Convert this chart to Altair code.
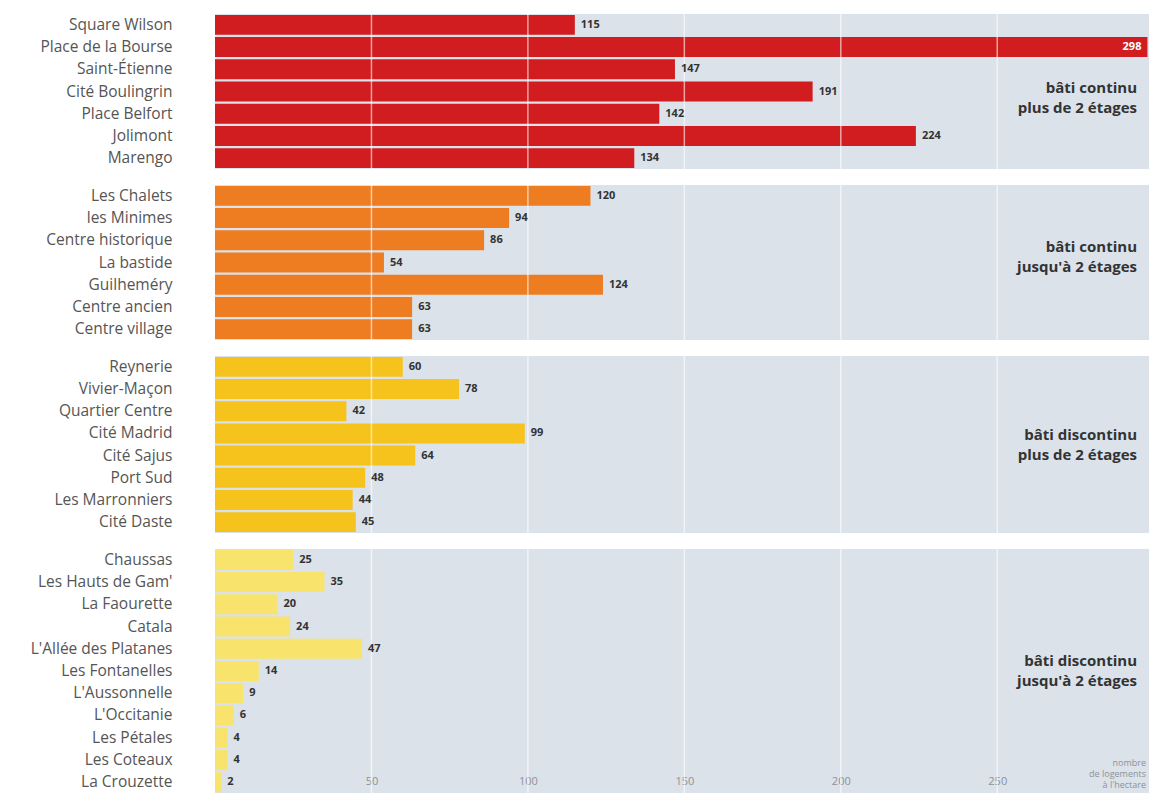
import altair as alt
import pandas as pd

FONT = "Open Sans"
W = 934

names_1 = ["Square Wilson", "Place de la Bourse", "Saint-Étienne", "Cité Boulingrin",
           "Place Belfort", "Jolimont", "Marengo"]
vals_1 = [115, 298, 147, 191, 142, 224, 134]

names_2 = ["Les Chalets", "les Minimes", "Centre historique", "La bastide",
           "Guilheméry", "Centre ancien", "Centre village"]
vals_2 = [120, 94, 86, 54, 124, 63, 63]

names_3 = ["Reynerie", "Vivier-Maçon", "Quartier Centre", "Cité Madrid",
           "Cité Sajus", "Port Sud", "Les Marronniers", "Cité Daste"]
vals_3 = [60, 78, 42, 99, 64, 48, 44, 45]

names_4 = ["Chaussas", "Les Hauts de Gam'", "La Faourette", "Catala",
           "L'Allée des Platanes", "Les Fontanelles", "L'Aussonnelle",
           "L'Occitanie", "Les Pétales", "Les Coteaux", "La Crouzette"]
vals_4 = [25, 35, 20, 24, 47, 14, 9, 6, 4, 4, 2]

group_labels = ["bâti continu\nplus de 2 étages",
                "bâti continu\njusqu'à 2 étages",
                "bâti discontinu\nplus de 2 étages",
                "bâti discontinu\njusqu'à 2 étages"]
group_colors = ["#d11d1f", "#ee7d22", "#f6c21c", "#f8e46c"]
label_shift = [-4, -16, -10, -10]

grid_vals = [50, 100, 150, 200, 250]
axis_title = "nombre\nde logements\nà l'hectare"

XDOM = [0, 298.5]


def panel(names, vals, color, label, height, shift, last=False):
    df = pd.DataFrame({"name": names, "value": vals})
    base = alt.Chart(df)
    yscale = alt.Scale(paddingInner=0.1, paddingOuter=0.04)
    xscale = alt.Scale(domain=XDOM, nice=False, zero=True)
    if last:
        xaxis = alt.Axis(values=grid_vals, domain=False, ticks=False, grid=False,
                         labelColor="#8c9299", labelFontSize=11, labelFont=FONT,
                         offset=-20, title=None)
    else:
        xaxis = None
    yaxis = alt.Axis(domain=False, ticks=False, grid=False, labelPadding=43,
                     labelFont=FONT, labelFontSize=15.5, labelColor="#555555",
                     minExtent=202, maxExtent=202, title=None)
    bars = base.mark_bar(color=color).encode(
        x=alt.X("value:Q", scale=xscale, axis=xaxis, title=None),
        y=alt.Y("name:N", sort=names, scale=yscale, axis=yaxis, title=None),
    )
    ytxt = alt.Y("name:N", sort=names, title=None)
    xtxt = alt.X("value:Q", title=None)
    out_txt = base.transform_filter("datum.value < 280").mark_text(
        align="left", baseline="middle", dx=6, font=FONT, fontSize=11,
        fontWeight="bold", color="#333333"
    ).encode(x=xtxt, y=ytxt, text="value:Q")
    in_txt = base.transform_filter("datum.value >= 280").mark_text(
        align="right", baseline="middle", dx=-6, font=FONT, fontSize=11,
        fontWeight="bold", color="#ffffff"
    ).encode(x=xtxt, y=ytxt, text="value:Q")
    grid = alt.Chart(pd.DataFrame({"value": grid_vals})).mark_rule(
        color="white", opacity=0.6, strokeWidth=1.5
    ).encode(x=alt.X("value:Q", title=None))
    lab = alt.Chart(pd.DataFrame({"t": [label]})).mark_text(
        align="right", baseline="middle", lineBreak="\n", font=FONT,
        fontSize=15, fontWeight="bold", color="#333333", lineHeight=20
    ).encode(text="t:N", x=alt.value(W - 12), y=alt.value(height / 2 + shift))
    layers = [bars, grid, out_txt, in_txt, lab]
    if last:
        ttl = alt.Chart(pd.DataFrame({"t": [axis_title]})).mark_text(
            align="right", baseline="top", lineBreak="\n", font=FONT,
            fontSize=9, color="#8c9299", lineHeight=11
        ).encode(text="t:N", x=alt.value(W - 3), y=alt.value(height - 34))
        layers.append(ttl)
    return alt.layer(*layers).properties(width=W, height=height)


chart = alt.vconcat(
    panel(names_1, vals_1, group_colors[0], group_labels[0], 155, label_shift[0]),
    panel(names_2, vals_2, group_colors[1], group_labels[1], 155, label_shift[1]),
    panel(names_3, vals_3, group_colors[2], group_labels[2], 177, label_shift[2]),
    panel(names_4, vals_4, group_colors[3], group_labels[3], 244, label_shift[3], last=True),
    spacing=14,
).properties(
    padding={"left": 5, "top": 5, "right": 0, "bottom": 0},
    background="white",
).configure_view(fill="#dbe2e9", strokeWidth=0)

chart.save("out.html", embed_options={"renderer": "svg", "actions": False})
